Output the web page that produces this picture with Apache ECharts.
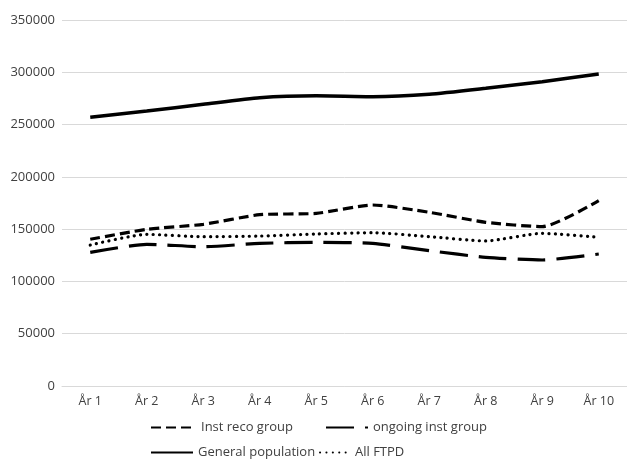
<!DOCTYPE html>
<html><head><meta charset="utf-8">
<script src="https://cdn.jsdelivr.net/npm/echarts@6/dist/echarts.min.js"></script>
<style>html,body{margin:0;padding:0;background:#fff}#c{width:627px;height:461px}</style>
</head><body><div id="c"></div>
<script>
const categories = ['År 1','År 2','År 3','År 4','År 5','År 6','År 7','År 8','År 9','År 10'];
const instReco = [140300,149800,154600,163800,165100,173100,166100,156500,152400,177200];
const ongoingInst = [127800,135500,133200,136400,137400,136400,129400,123000,120500,126200];
const generalPop = [257000,263000,269400,275700,277600,276700,279000,284700,291000,298400];
const allFTPD = [134800,145000,142800,143400,145400,146600,142800,138700,146000,142200];
const yTicks = {min:0, max:350000, interval:50000};

const font = 'Open Sans, DejaVu Sans, sans-serif';
const txt = '#404040';
const chart = echarts.init(document.getElementById('c'), null, {renderer:'canvas'});
function ser(name, data, type, width, cap){
  return {name, type:'line', data, smooth:0.2, symbol:'none', showSymbol:false,
    lineStyle:{color:'#000', width, type, cap: cap||'butt'}, itemStyle:{color:'#000'}};
}
function leg(name, left, top, w){
  return {data:[name], left, top, itemWidth:w, itemHeight:10, itemGap:0,
    itemStyle:{opacity:0, borderWidth:0},
    textStyle:{fontFamily:font, fontSize:13, color:txt}, padding:0};
}
chart.setOption({
  animation:false,
  grid:{left:62, top:20, width:568, height:366, containLabel:false},
  xAxis:{type:'category', data:categories, boundaryGap:true,
    axisLine:{lineStyle:{color:'#d9d9d9', width:1}}, axisTick:{show:false},
    axisLabel:{fontFamily:font, fontSize:12.5, color:txt, margin:9}},
  yAxis:{type:'value', min:yTicks.min, max:yTicks.max, interval:yTicks.interval,
    axisLine:{show:false}, axisTick:{show:false},
    splitLine:{lineStyle:{color:'#d9d9d9', width:1}},
    axisLabel:{fontFamily:font, fontSize:13, color:txt, margin:7, formatter:v=>String(v)}},
  legend:[
    leg('Inst reco group', 150, 421, 45),
    leg('ongoing inst group', 325, 421, 42),
    leg('General population', 150, 446, 42),
    leg('All FTPD', 319, 446, 30)
  ],
  series:[
    ser('Inst reco group', instReco, [10,5], 3.2),
    ser('ongoing inst group', ongoingInst, [28,11], 3.2),
    ser('General population', generalPop, 'solid', 3.5),
    ser('All FTPD', allFTPD, [0.1,6.3], 3.2, 'round')
  ]
});
</script></body></html>
